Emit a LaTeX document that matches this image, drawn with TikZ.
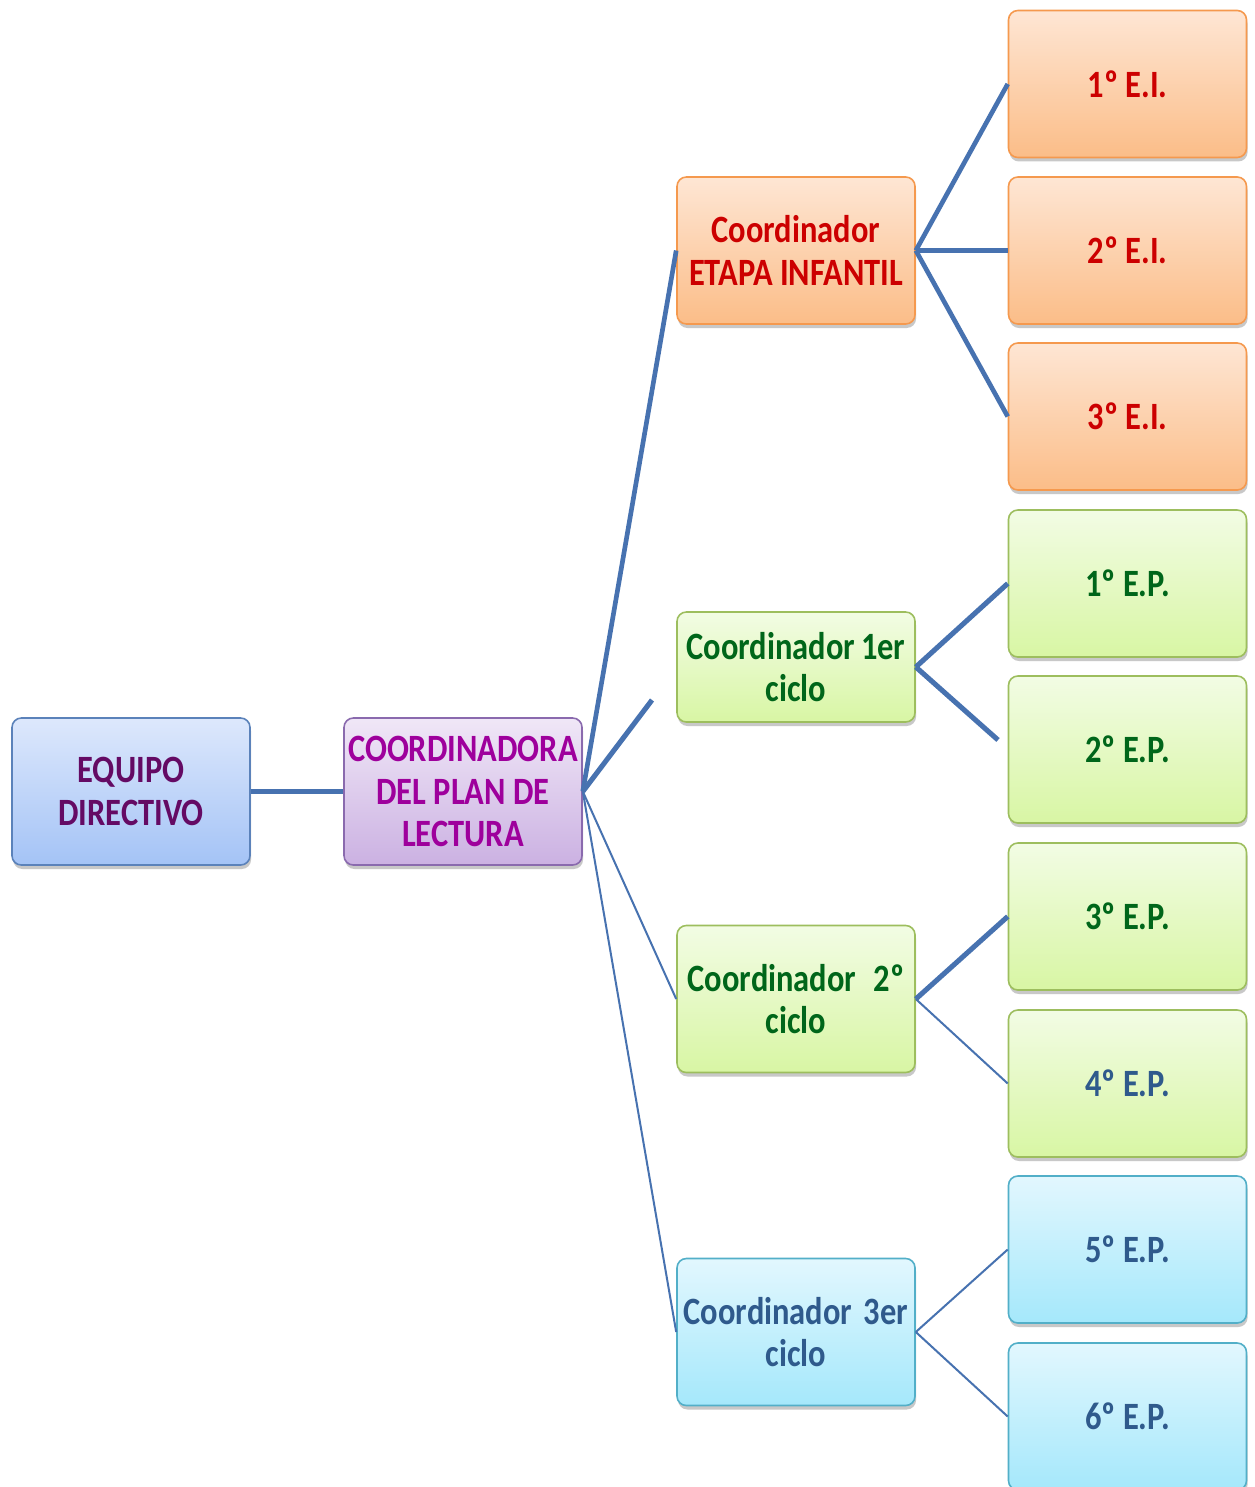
\documentclass[tikz,border=0pt]{standalone}
\usepackage{fontspec}
\setmainfont{Carlito}[FakeStretch=0.84]
\usetikzlibrary{shadows}
\definecolor{linec}{HTML}{4772B0}
\definecolor{bluetop}{HTML}{DDE8FC}\definecolor{bluebot}{HTML}{A4C3F6}\definecolor{blueb}{HTML}{5B82BA}
\definecolor{purtop}{HTML}{F0E7F7}\definecolor{purbot}{HTML}{CBB1E2}\definecolor{purb}{HTML}{8A6AAE}
\definecolor{ortop}{HTML}{FEE6D4}\definecolor{orbot}{HTML}{FBBD88}\definecolor{orb}{HTML}{F5994E}
\definecolor{grtop}{HTML}{F2FCE4}\definecolor{grbot}{HTML}{D8F6A4}\definecolor{grb}{HTML}{9DBE5E}
\definecolor{cytop}{HTML}{E2F7FE}\definecolor{cybot}{HTML}{A5E8FB}\definecolor{cyb}{HTML}{52AFC8}
\definecolor{txpurd}{HTML}{640A64}\definecolor{txmag}{HTML}{9E009C}
\definecolor{txred}{HTML}{CC0000}\definecolor{txgreen}{HTML}{00661A}\definecolor{txblue}{HTML}{2F5A8C}
\tikzset{
  box/.style={rectangle, rounded corners=7pt, line width=1.2pt, minimum width=178.5pt, minimum height=110.25pt,
    inner sep=0pt, align=center, font=\bfseries\fontsize{29}{32}\selectfont,
    drop shadow={shadow xshift=0.8pt, shadow yshift=-3pt, opacity=0.3, fill=black!70}},
  bluebox/.style={box, draw=blueb, top color=bluetop, bottom color=bluebot, text=txpurd},
  purbox/.style={box, draw=purb, top color=purtop, bottom color=purbot, text=txmag},
  orbox/.style={box, draw=orb, top color=ortop, bottom color=orbot, text=txred},
  grbox/.style={box, draw=grb, top color=grtop, bottom color=grbot, text=txgreen},
  cybox/.style={box, draw=cyb, top color=cytop, bottom color=cybot, text=txblue},
  thick link/.style={draw=linec, line width=3.5pt},
  thin link/.style={draw=linec, line width=1.5pt},
}
\begin{document}
\begin{tikzpicture}[x=0.75pt, y=-0.75pt]
\clip (0,0) rectangle (1254,1487);
\fill[white] (0,0) rectangle (1254,1487);
% level 1
\node[bluebox] (eq) at (131,791.5) {EQUIPO\\DIRECTIVO};
\node[purbox] (co) at (463,791.5) {COORDINADORA\\DEL PLAN DE\\LECTURA};
% coordinators
\node[orbox] (cei) at (796,250.5) {Coordinador\\ETAPA INFANTIL};
\node[grbox, minimum height=82.5pt] (c1) at (796,667) {Coordinador\hspace{0.15em}1er\\ciclo};
\node[grbox] (c2) at (796,999) {Coordinador\hspace{0.45em}2º\\ciclo};
\node[cybox] (c3) at (796,1332) {Coordinador\hspace{0.3em}3er\\ciclo};
% leaves
\node[orbox] (e1) at (1127.5,84) {1º E.I.};
\node[orbox] (e2) at (1127.5,250.5) {2º E.I.};
\node[orbox] (e3) at (1127.5,416.5) {3º E.I.};
\node[grbox] (p1) at (1127.5,583.5) {1º E.P.};
\node[grbox] (p2) at (1127.5,749.5) {2º E.P.};
\node[grbox] (p3) at (1127.5,916.5) {3º E.P.};
\node[grbox, text=txblue] (p4) at (1127.5,1083.5) {4º E.P.};
\node[cybox] (p5) at (1127.5,1249.5) {5º E.P.};
\node[cybox] (p6) at (1127.5,1416.5) {6º E.P.};
% free ends
\coordinate (dang) at (652,700);
\coordinate (dang2) at (998,740);
% connectors
\draw[thick link, line width=3.8pt] (eq.east) -- (co.west);
\draw[thick link] (co.east) -- (cei.west);
\draw[thick link, line width=3.8pt] (co.east) -- (dang);
\draw[thin link] (co.east) -- (c2.west);
\draw[thin link] (co.east) -- (c3.west);
\draw[thick link] (cei.east) -- (e1.west);
\draw[thick link] (cei.east) -- (e2.west);
\draw[thick link] (cei.east) -- (e3.west);
\draw[thick link, line width=3.8pt] (c1.east) -- (p1.west);
\draw[thick link, line width=3.8pt] (c1.east) -- (dang2);
\draw[thick link, line width=3.8pt] (c2.east) -- (p3.west);
\draw[thin link] (c2.east) -- (p4.west);
\draw[thin link] (c3.east) -- (p5.west);
\draw[thin link] (c3.east) -- (p6.west);
\end{tikzpicture}
\end{document}
